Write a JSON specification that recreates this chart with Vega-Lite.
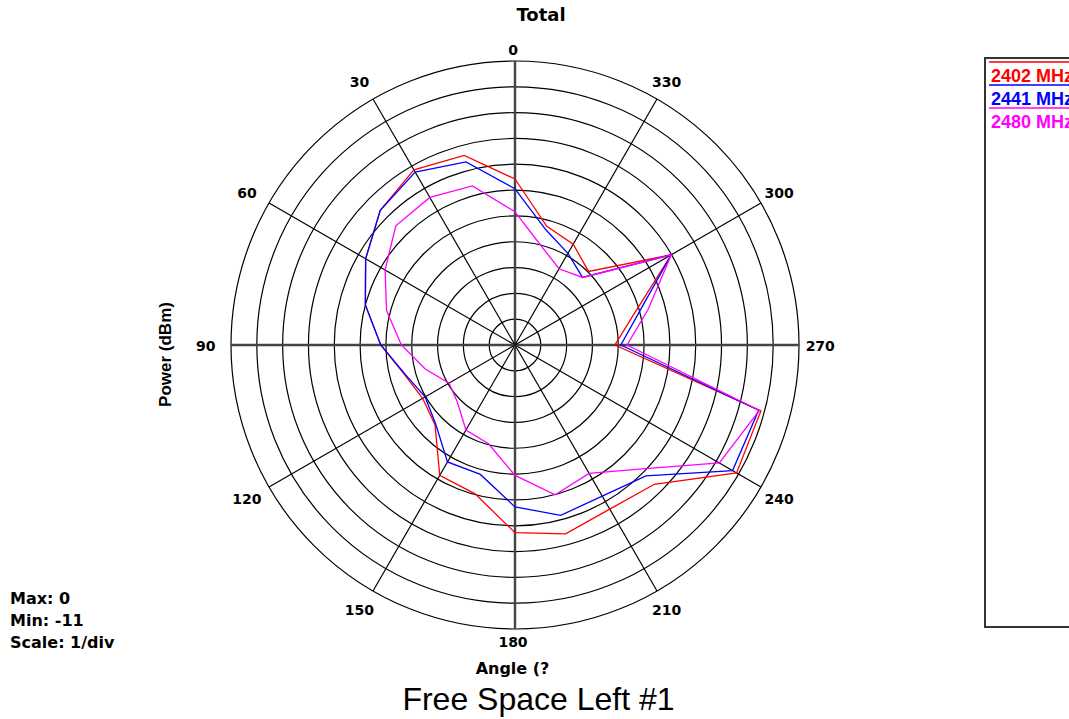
{
  "$schema": "https://vega.github.io/schema/vega-lite/v6.json",
  "width": 568,
  "height": 568,
  "autosize": {"type": "none"},
  "padding": {"left": 231, "top": 61, "right": 270, "bottom": 90},
  "background": "white",
  "config": {
    "view": {"stroke": null},
    "font": "Liberation Sans",
    "legend": {"strokeWidth": 2},
    "axis": {"labels": false, "ticks": false, "domain": false, "grid": false, "titleColor": "#000", "titleFontWeight": "bold"},
    "axisX": {"titleFont": "DejaVu Sans", "titleFontSize": 16, "titleX": 281, "titleY": 39, "titleBaseline": "middle"},
    "axisY": {"titleFont": "Liberation Sans", "titleFontSize": 17, "titleX": -66, "titleY": 293, "titleBaseline": "middle", "titleAngle": -90}
  },
  "title": {"text": "Total", "anchor": "middle", "frame": "group", "dx": 26, "offset": 19, "fontSize": 18, "fontWeight": "bold", "font": "DejaVu Sans", "color": "#000"},
  "datasets": {
    "rings": [{"ring": 1}, {"ring": 2}, {"ring": 3}, {"ring": 4}, {"ring": 5}, {"ring": 6}, {"ring": 7}, {"ring": 8}, {"ring": 9}, {"ring": 10}, {"ring": 11}],
    "spokes": [{"angle": 0}, {"angle": 30}, {"angle": 60}, {"angle": 90}, {"angle": 120}, {"angle": 150}, {"angle": 180}, {"angle": 210}, {"angle": 240}, {"angle": 270}, {"angle": 300}, {"angle": 330}],
    "pwr": [
      {"freq": "2402 MHz", "angle": 0, "dbm": -4.57}, {"freq": "2402 MHz", "angle": 15, "dbm": -3.40}, {"freq": "2402 MHz", "angle": 30, "dbm": -3.17}, {"freq": "2402 MHz", "angle": 45, "dbm": -3.62}, {"freq": "2402 MHz", "angle": 60, "dbm": -4.32}, {"freq": "2402 MHz", "angle": 75, "dbm": -5.00}, {"freq": "2402 MHz", "angle": 90, "dbm": -5.80}, {"freq": "2402 MHz", "angle": 105, "dbm": -6.57}, {"freq": "2402 MHz", "angle": 120, "dbm": -6.87}, {"freq": "2402 MHz", "angle": 135, "dbm": -6.62}, {"freq": "2402 MHz", "angle": 150, "dbm": -5.17}, {"freq": "2402 MHz", "angle": 165, "dbm": -5.03}, {"freq": "2402 MHz", "angle": 180, "dbm": -3.73}, {"freq": "2402 MHz", "angle": 195, "dbm": -3.43}, {"freq": "2402 MHz", "angle": 210, "dbm": -3.66}, {"freq": "2402 MHz", "angle": 225, "dbm": -3.37}, {"freq": "2402 MHz", "angle": 240, "dbm": -1.09}, {"freq": "2402 MHz", "angle": 255, "dbm": -1.14}, {"freq": "2402 MHz", "angle": 270, "dbm": -7.13}, {"freq": "2402 MHz", "angle": 285, "dbm": -6.20}, {"freq": "2402 MHz", "angle": 300, "dbm": -4.01}, {"freq": "2402 MHz", "angle": 315, "dbm": -6.97}, {"freq": "2402 MHz", "angle": 330, "dbm": -6.49}, {"freq": "2402 MHz", "angle": 345, "dbm": -6.24}, {"freq": "2402 MHz", "angle": 360, "dbm": -4.57},
      {"freq": "2441 MHz", "angle": 0, "dbm": -4.95}, {"freq": "2441 MHz", "angle": 15, "dbm": -3.66}, {"freq": "2441 MHz", "angle": 30, "dbm": -3.27}, {"freq": "2441 MHz", "angle": 45, "dbm": -3.62}, {"freq": "2441 MHz", "angle": 60, "dbm": -4.32}, {"freq": "2441 MHz", "angle": 75, "dbm": -5.00}, {"freq": "2441 MHz", "angle": 90, "dbm": -5.80}, {"freq": "2441 MHz", "angle": 105, "dbm": -6.60}, {"freq": "2441 MHz", "angle": 120, "dbm": -6.98}, {"freq": "2441 MHz", "angle": 135, "dbm": -6.66}, {"freq": "2441 MHz", "angle": 150, "dbm": -5.77}, {"freq": "2441 MHz", "angle": 165, "dbm": -5.81}, {"freq": "2441 MHz", "angle": 180, "dbm": -4.73}, {"freq": "2441 MHz", "angle": 195, "dbm": -4.17}, {"freq": "2441 MHz", "angle": 210, "dbm": -4.24}, {"freq": "2441 MHz", "angle": 225, "dbm": -3.83}, {"freq": "2441 MHz", "angle": 240, "dbm": -1.27}, {"freq": "2441 MHz", "angle": 255, "dbm": -1.23}, {"freq": "2441 MHz", "angle": 270, "dbm": -6.90}, {"freq": "2441 MHz", "angle": 285, "dbm": -6.01}, {"freq": "2441 MHz", "angle": 300, "dbm": -4.01}, {"freq": "2441 MHz", "angle": 315, "dbm": -7.30}, {"freq": "2441 MHz", "angle": 330, "dbm": -6.90}, {"freq": "2441 MHz", "angle": 345, "dbm": -6.38}, {"freq": "2441 MHz", "angle": 360, "dbm": -4.95},
      {"freq": "2480 MHz", "angle": 0, "dbm": -5.84}, {"freq": "2480 MHz", "angle": 15, "dbm": -4.62}, {"freq": "2480 MHz", "angle": 30, "dbm": -4.40}, {"freq": "2480 MHz", "angle": 45, "dbm": -4.47}, {"freq": "2480 MHz", "angle": 60, "dbm": -5.19}, {"freq": "2480 MHz", "angle": 75, "dbm": -5.85}, {"freq": "2480 MHz", "angle": 90, "dbm": -6.60}, {"freq": "2480 MHz", "angle": 105, "dbm": -7.40}, {"freq": "2480 MHz", "angle": 120, "dbm": -8.05}, {"freq": "2480 MHz", "angle": 135, "dbm": -7.85}, {"freq": "2480 MHz", "angle": 150, "dbm": -7.20}, {"freq": "2480 MHz", "angle": 165, "dbm": -7.04}, {"freq": "2480 MHz", "angle": 180, "dbm": -5.95}, {"freq": "2480 MHz", "angle": 195, "dbm": -4.99}, {"freq": "2480 MHz", "angle": 210, "dbm": -5.26}, {"freq": "2480 MHz", "angle": 225, "dbm": -4.20}, {"freq": "2480 MHz", "angle": 240, "dbm": -1.86}, {"freq": "2480 MHz", "angle": 255, "dbm": -1.20}, {"freq": "2480 MHz", "angle": 270, "dbm": -6.66}, {"freq": "2480 MHz", "angle": 285, "dbm": -5.66}, {"freq": "2480 MHz", "angle": 300, "dbm": -4.01}, {"freq": "2480 MHz", "angle": 315, "dbm": -7.30}, {"freq": "2480 MHz", "angle": 330, "dbm": -7.59}, {"freq": "2480 MHz", "angle": 345, "dbm": -7.04}, {"freq": "2480 MHz", "angle": 360, "dbm": -5.84}
    ]
  },
  "layer": [
    {
      "data": {"name": "rings"},
      "mark": {"type": "point", "shape": "circle", "filled": false, "stroke": "#000", "strokeWidth": 1.2, "opacity": 1},
      "encoding": {
        "x": {"datum": 0, "type": "quantitative", "scale": {"domain": [-11, 11], "nice": false, "zero": false}, "axis": {"title": "Angle  (?"}},
        "y": {"datum": 0, "type": "quantitative", "scale": {"domain": [-11, 11], "nice": false, "zero": false}, "axis": {"title": "Power  (dBm)"}},
        "size": {"field": "ring", "type": "quantitative", "scale": {"type": "pow", "exponent": 2, "domain": [0, 11], "range": [0, 322624]}, "legend": null}
      }
    },
    {
      "data": {"name": "spokes"},
      "transform": [
        {"calculate": "-11*sin(datum.angle*PI/180)", "as": "ex"},
        {"calculate": "11*cos(datum.angle*PI/180)", "as": "ey"},
        {"calculate": "0", "as": "ox"},
        {"calculate": "datum.angle % 90 === 0 ? 'main' : 'minor'", "as": "kind"}
      ],
      "mark": {"type": "rule"},
      "encoding": {
        "x": {"field": "ox", "type": "quantitative", "axis": {"title": "Angle  (?"}},
        "y": {"field": "ox", "type": "quantitative", "axis": {"title": "Power  (dBm)"}},
        "x2": {"field": "ex"},
        "y2": {"field": "ey"},
        "stroke": {"field": "kind", "type": "nominal", "scale": {"domain": ["main", "minor"], "range": ["#444444", "#000000"]}, "legend": null},
        "strokeWidth": {"field": "kind", "type": "nominal", "scale": {"domain": ["main", "minor"], "range": [2.4, 1.2]}, "legend": null}
      }
    },
    {
      "data": {"name": "pwr"},
      "transform": [
        {"calculate": "datum.dbm + 11", "as": "r"},
        {"calculate": "-datum.r*sin(datum.angle*PI/180)", "as": "px"},
        {"calculate": "datum.r*cos(datum.angle*PI/180)", "as": "py"}
      ],
      "mark": {"type": "line", "strokeWidth": 1.3},
      "encoding": {
        "x": {"field": "px", "type": "quantitative", "axis": {"title": "Angle  (?"}},
        "y": {"field": "py", "type": "quantitative", "axis": {"title": "Power  (dBm)"}},
        "color": {"field": "freq", "type": "nominal",
                  "scale": {"domain": ["2402 MHz", "2441 MHz", "2480 MHz"], "range": ["#ff0000", "#0000ff", "#ff00ff"]},
                  "legend": {"orient": "none", "legendX": 754, "legendY": -3, "title": " ", "titleOrient": "bottom", "titlePadding": 483, "titleFontSize": 2,
                             "strokeColor": "#333", "padding": 10, "symbolType": "M -15 -15 L 200 -15", "symbolSize": 4, "symbolStrokeWidth": 1.5,
                             "labelFont": "Liberation Sans", "labelFontSize": 18, "labelFontWeight": "bold", "labelOffset": -22, "rowPadding": -4,
                             "labelColor": {"expr": "scale('color', datum.value)"}}},
        "order": {"field": "angle", "type": "quantitative"}
      }
    },
    {
      "data": {"name": "spokes"},
      "transform": [
        {"calculate": "-11.9*sin(datum.angle*PI/180)", "as": "lx"},
        {"calculate": "(datum.angle % 180 === 0 ? 11.47 : 11.82)*cos(datum.angle*PI/180)", "as": "ly"}
      ],
      "mark": {"type": "text", "font": "DejaVu Sans", "fontWeight": "bold", "fontSize": 14, "align": "center", "baseline": "middle", "color": "#000", "dx": -2, "dy": 2},
      "encoding": {
        "x": {"field": "lx", "type": "quantitative", "axis": {"title": "Angle  (?"}},
        "y": {"field": "ly", "type": "quantitative", "axis": {"title": "Power  (dBm)"}},
        "text": {"field": "angle", "type": "quantitative", "format": "d"}
      }
    },
    {
      "data": {"values": [{"txt": "Max: 0\nMin: -11\nScale: 1/div"}]},
      "mark": {"type": "text", "font": "DejaVu Sans", "fontWeight": "bold", "fontSize": 16, "align": "left", "baseline": "top", "lineBreak": "\n", "lineHeight": 22, "color": "#000"},
      "encoding": {
        "x": {"datum": -19.56, "type": "quantitative", "axis": {"title": "Angle  (?"}},
        "y": {"datum": -9.53, "type": "quantitative", "axis": {"title": "Power  (dBm)"}},
        "text": {"field": "txt", "type": "nominal"}
      }
    },
    {
      "data": {"values": [{"txt": "Free Space Left #1"}]},
      "mark": {"type": "text", "font": "Liberation Sans", "fontSize": 32, "align": "center", "baseline": "middle", "color": "#000"},
      "encoding": {
        "x": {"datum": 0.91, "type": "quantitative", "axis": {"title": "Angle  (?"}},
        "y": {"datum": -13.75, "type": "quantitative", "axis": {"title": "Power  (dBm)"}},
        "text": {"field": "txt", "type": "nominal"}
      }
    }
  ]
}
